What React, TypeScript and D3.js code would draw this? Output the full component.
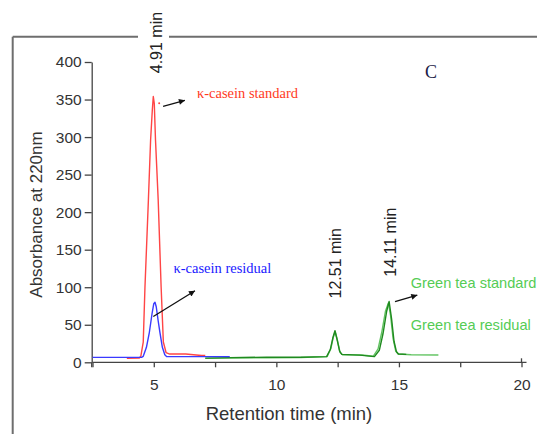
import { useEffect, useRef } from "react";
import * as d3 from "d3";

// retention time (min), absorbance at 220nm
const caseinStandard: [number, number][] = [
  [3.9, 5.3], [4.4, 5.5], [4.47, 8], [4.57, 27], [4.64, 100], [4.78, 216],
  [4.87, 296], [4.94, 336], [4.98, 354], [5.02, 345], [5.07, 296], [5.12, 260],
  [5.18, 216], [5.3, 100], [5.39, 27], [5.5, 13], [5.65, 11], [6.3, 11],
  [6.95, 9], [7.1, 9],
];

const caseinResidual: [number, number][] = [
  [2.5, 6.6], [4.5, 6.6], [4.57, 8], [4.7, 20], [4.82, 40], [4.93, 65],
  [5.0, 78], [5.05, 80], [5.1, 74], [5.18, 55], [5.25, 40], [5.35, 20],
  [5.45, 10], [5.53, 7.5], [6.5, 7.5], [8.1, 7.5],
];

const greenTeaResidual: [number, number][] = [
  [7.1, 5.2], [8.1, 5.5], [9.6, 6.0], [11.0, 6.3], [12.07, 7.5], [12.22, 18],
  [12.32, 33], [12.4, 41], [12.5, 28], [12.6, 13], [12.7, 10], [13.5, 9.7],
  [13.95, 8], [14.15, 18], [14.3, 40], [14.45, 68], [14.57, 79], [14.66, 62],
  [14.76, 32], [14.87, 15], [14.97, 11], [15.5, 10], [16.61, 9.7],
];

const greenTeaStandard: [number, number][] = [
  [7.1, 5.5], [8.1, 6.2], [9.6, 6.8], [11.0, 6.8], [12.05, 7.5], [12.2, 17],
  [12.3, 32], [12.39, 42], [12.48, 30], [12.58, 15], [12.67, 10.5], [13.4, 9.5],
  [14.0, 7.5], [14.2, 16], [14.35, 38], [14.5, 68], [14.6, 81], [14.7, 58],
  [14.8, 28], [14.9, 14], [14.98, 11], [15.3, 10.5],
];

const yTicks = [0, 50, 100, 150, 200, 250, 300, 350, 400];
const xTicks = [2.5, 5, 7.5, 10, 12.5, 15, 17.5, 20];
const xTickLabels = [5, 10, 15, 20];

const peakLabels = ["4.91 min", "12.51 min", "14.11 min"];

const SANS = "'Liberation Sans', Arial, sans-serif";
const SERIF = "'Liberation Serif', 'Times New Roman', serif";

export default function App() {
  const ref = useRef<SVGSVGElement>(null);

  useEffect(() => {
    const svg = d3.select(ref.current);
    svg.selectAll("*").remove();

    const x = d3.scaleLinear().domain([2.5, 20]).range([92.5, 521.5]);
    const y = d3.scaleLinear().domain([0, 400]).range([362.3, 62]);

    // arrow head
    svg.append("defs").append("marker")
      .attr("id", "arr")
      .attr("viewBox", "0 0 10 10")
      .attr("refX", 10).attr("refY", 5)
      .attr("markerWidth", 8).attr("markerHeight", 6)
      .attr("markerUnits", "userSpaceOnUse")
      .attr("orient", "auto")
      .append("path").attr("d", "M0,0 L10,5 L0,10 z").attr("fill", "#111");

    // outer frame (top edge broken by the 4.91 label)
    const frame = svg.append("g").attr("stroke", "#6e6e6e").attr("stroke-width", 2);
    frame.append("line").attr("x1", 12.7).attr("y1", 36.7).attr("x2", 12.7).attr("y2", 440);
    frame.append("line").attr("x1", 12.7).attr("y1", 36.7).attr("x2", 138).attr("y2", 36.7);
    frame.append("line").attr("x1", 169).attr("y1", 36.7).attr("x2", 540).attr("y2", 36.7);

    // y axis
    const gy = svg.append("g")
      .attr("transform", `translate(${x(2.5) - 0.8},0)`)
      .call(d3.axisLeft(y).tickValues(yTicks).tickSize(7).tickSizeOuter(0).tickPadding(3));
    gy.select(".domain").attr("stroke", "#444").attr("stroke-width", 1.3);
    gy.selectAll(".tick line").attr("stroke", "#444").attr("stroke-width", 1.3);
    gy.selectAll(".tick text")
      .attr("font-family", SANS).attr("font-size", 15.5).attr("fill", "#333");
    gy.append("line").attr("x1", 0).attr("x2", 0).attr("y1", y(0)).attr("y2", y(0) + 5)
      .attr("stroke", "#444").attr("stroke-width", 1.3);

    // x axis
    const gx = svg.append("g")
      .attr("transform", `translate(0,${y(0)})`)
      .call(d3.axisBottom(x).tickValues(xTicks).tickSize(5).tickSizeOuter(0).tickPadding(12)
        .tickFormat(d => (xTickLabels.includes(+d) ? String(d) : "")));
    gx.select(".domain").attr("stroke", "#444").attr("stroke-width", 1.3)
      .attr("d", `M${x(2.5)},0H${x(20) + 5}`);
    gx.selectAll(".tick line").attr("stroke", "#444").attr("stroke-width", 1.3);
    gx.selectAll(".tick text")
      .attr("font-family", SANS).attr("font-size", 15.5).attr("fill", "#333");
    gx.append("line").attr("x1", x(20)).attr("x2", x(20)).attr("y1", -4).attr("y2", 0)
      .attr("stroke", "#444").attr("stroke-width", 1.3);

    // axis titles
    svg.append("text")
      .attr("transform", `translate(41.7,214.5) rotate(-90)`)
      .attr("text-anchor", "middle")
      .attr("font-family", SANS).attr("font-size", 17).attr("fill", "#333")
      .text("Absorbance at 220nm");
    svg.append("text")
      .attr("x", 289).attr("y", 420)
      .attr("text-anchor", "middle")
      .attr("font-family", SANS).attr("font-size", 18.5).attr("fill", "#333")
      .text("Retention time (min)");

    // traces
    const line = d3.line<[number, number]>().x(d => x(d[0])).y(d => y(d[1]));
    const traces: { data: [number, number][]; color: string }[] = [
      { data: greenTeaResidual, color: "#62c462" },
      { data: greenTeaStandard, color: "#1f8a1f" },
      { data: caseinStandard, color: "#ff4545" },
      { data: caseinResidual, color: "#3a3aff" },
    ];
    svg.append("g").selectAll("path")
      .data(traces)
      .join("path")
      .attr("d", d => line(d.data))
      .attr("fill", "none")
      .attr("stroke", d => d.color)
      .attr("stroke-width", 1.4)
      .attr("stroke-linejoin", "round");

    // peak labels (rotated)
    const peakPos: [number, number][] = [[5.32, 385], [12.64, 85], [14.9, 114]];
    svg.append("g").selectAll("text")
      .data(peakLabels)
      .join("text")
      .attr("transform", (d, i) => `translate(${x(peakPos[i][0])},${y(peakPos[i][1])}) rotate(-90)`)
      .attr("font-family", SANS).attr("font-size", 16).attr("fill", "#222")
      .text(d => d);

    // series labels
    const notes = [
      { text: "κ-casein standard", t: 6.76, a: 352.6, color: "#ff3a1e", font: SERIF, size: 14.5 },
      { text: "κ-casein residual", t: 5.8, a: 119.6, color: "#1a1aff", font: SERIF, size: 14.5 },
      { text: "Green tea standard", t: 15.48, a: 98.5, color: "#55cc55", font: SANS, size: 14.6 },
      { text: "Green tea residual", t: 15.48, a: 43, color: "#55cc55", font: SANS, size: 14.6 },
      { text: "C", t: 16.06, a: 379, color: "#1c1c48", font: SERIF, size: 18 },
    ];
    svg.append("g").selectAll("text")
      .data(notes)
      .join("text")
      .attr("x", d => x(d.t)).attr("y", d => y(d.a))
      .attr("font-family", d => d.font).attr("font-size", d => d.size)
      .attr("fill", d => d.color)
      .text(d => d.text);

    // arrows
    const arrows: [number, number, number, number][] = [
      [5.38, 341, 6.27, 349],
      [4.98, 61, 6.68, 95.3],
      [14.84, 80.7, 15.75, 89.6],
    ];
    svg.append("g").selectAll("line")
      .data(arrows)
      .join("line")
      .attr("x1", d => x(d[0])).attr("y1", d => y(d[1]))
      .attr("x2", d => x(d[2])).attr("y2", d => y(d[3]))
      .attr("stroke", "#111").attr("stroke-width", 1.3)
      .attr("marker-end", "url(#arr)");

    svg.append("circle")
      .attr("cx", x(5.22)).attr("cy", y(344.9)).attr("r", 1)
      .attr("fill", "#ff4545");
  }, []);

  return (
    <svg
      ref={ref}
      width={537}
      height={434}
      style={{ position: "absolute", left: 0, top: 0, background: "#fff" }}
    />
  );
}
